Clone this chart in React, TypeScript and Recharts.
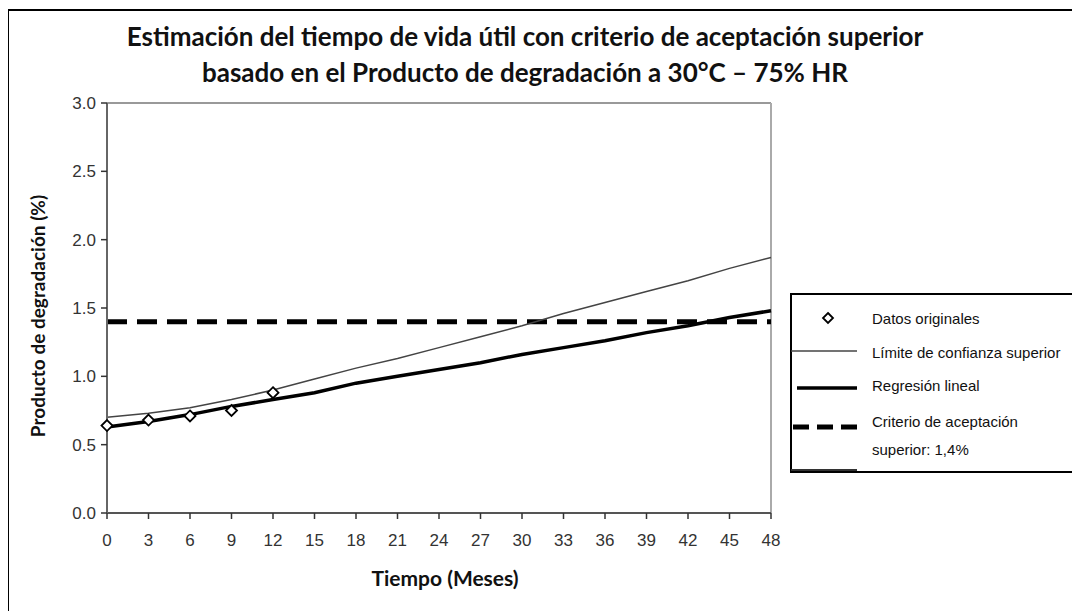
import React from "react";
import { ComposedChart, Line, XAxis, YAxis, ReferenceLine, Label } from "recharts";

const months = [0, 3, 6, 9, 12, 15, 18, 21, 24, 27, 30, 33, 36, 39, 42, 45, 48];
const upperLimit = [0.70, 0.73, 0.77, 0.83, 0.90, 0.98, 1.06, 1.13, 1.21, 1.29, 1.37, 1.46, 1.54, 1.62, 1.70, 1.79, 1.87];
const regression = [0.63, 0.67, 0.72, 0.78, 0.83, 0.88, 0.95, 1.00, 1.05, 1.10, 1.16, 1.21, 1.26, 1.32, 1.37, 1.43, 1.48];
const observed: (number | null)[] = [0.64, 0.68, 0.71, 0.75, 0.88, null, null, null, null, null, null, null, null, null, null, null, null];
const criterion = 1.4;
const yTicks = [0, 0.5, 1.0, 1.5, 2.0, 2.5, 3.0];

const data = months.map((m, i) => ({
  month: m,
  upper: upperLimit[i],
  reg: regression[i],
  obs: observed[i],
}));

const tickFont = { fontFamily: "Liberation Sans, Arial, sans-serif", fontSize: 17, fill: "#333" };
const boldFont = "Lato, Calibri, sans-serif";

const Diamond = (props: any) => {
  const { cx, cy, value, index } = props;
  if (value == null || cx == null || cy == null) return <g key={`d${index}`} />;
  const r = 5.5;
  return (
    <path
      key={`d${index}`}
      d={`M${cx},${cy - r} L${cx + r},${cy} L${cx},${cy + r} L${cx - r},${cy} Z`}
      fill="#fff"
      stroke="#000"
      strokeWidth={1.8}
    />
  );
};

const LegendBox = () => {
  const txt = { fontFamily: "Liberation Sans, Arial, sans-serif", fontSize: 15, fill: "#111" } as any;
  return (
    <svg width={287} height={181} style={{ display: "block" }}>
      <rect x={1} y={1} width={284} height={178} fill="#fff" stroke="#000" strokeWidth={2} />
      <path d="M38,20 L43,25 L38,30 L33,25 Z" fill="#fff" stroke="#000" strokeWidth={1.8} />
      <text x={82} y={31} {...txt}>Datos originales</text>
      <line x1={1} y1={58} x2={67} y2={58} stroke="#444" strokeWidth={1.3} />
      <text x={82} y={65} {...txt}>Límite de confianza superior</text>
      <line x1={7} y1={95} x2={67} y2={95} stroke="#000" strokeWidth={3.5} />
      <text x={82} y={98} {...txt}>Regresión lineal</text>
      <line x1={3} y1={134} x2={67} y2={134} stroke="#000" strokeWidth={5} strokeDasharray="16 8" />
      <text x={82} y={134} {...txt}>Criterio de aceptación</text>
      <text x={82} y={162} {...txt}>superior:  1,4%</text>
      <line x1={1} y1={177} x2={67} y2={177} stroke="#333" strokeWidth={2} />
    </svg>
  );
};

export default function App() {
  return (
    <div style={{ position: "relative", width: 1072, height: 603 }}>
      <div
        style={{
          position: "absolute",
          left: -1,
          top: 1,
          width: 1080,
          height: 610,
          borderLeft: "2px solid #000",
          borderTop: "2px solid #000",
        }}
      />
      <div
        style={{
          position: "absolute",
          left: 0,
          top: 10,
          width: 1034,
          textAlign: "center",
          fontFamily: boldFont,
          fontWeight: 700,
          fontSize: 26,
          lineHeight: "36px",
          color: "#111",
        }}
      >
        <div>Estimación del tiempo de vida útil con criterio de aceptación superior</div>
        <div>basado en el Producto de degradación a 30°C – 75% HR</div>
      </div>
      <div style={{ position: "absolute", left: 0, top: 0 }}>
        <ComposedChart
          width={1072}
          height={603}
          data={data}
          margin={{ top: 95, right: 309, bottom: 58, left: 39 }}
        >
          <XAxis
            dataKey="month"
            type="number"
            domain={[0, 48]}
            ticks={months}
            interval={0}
            height={40}
            axisLine={{ stroke: "#555", strokeWidth: 2 }}
            tickLine={{ stroke: "#333", strokeWidth: 1.5 }}
            tickSize={6}
            tick={tickFont}
            tickMargin={15}
          >
            <Label
              content={(p: any) => {
                const vb = p.viewBox;
                return (
                  <text
                    x={vb.x + vb.width / 2 + 6}
                    y={vb.y + 73}
                    textAnchor="middle"
                    fontFamily={boldFont}
                    fontWeight={700}
                    fontSize={21}
                    fill="#111"
                  >
                    Tiempo (Meses)
                  </text>
                );
              }}
            />
          </XAxis>
          <YAxis
            type="number"
            domain={[0, 3]}
            ticks={yTicks}
            interval={0}
            width={60}
            tickFormatter={(v: number) => v.toFixed(1)}
            axisLine={{ stroke: "#666", strokeWidth: 2 }}
            tickLine={{ stroke: "#333", strokeWidth: 1.5 }}
            tickSize={6}
            tick={tickFont}
            tickMargin={5}
          >
            <Label
              content={(p: any) => {
                const vb = p.viewBox;
                const cx = vb.x - 10;
                const cy = vb.y + vb.height / 2 + 8;
                return (
                  <text
                    x={cx}
                    y={cy}
                    transform={`rotate(-90 ${cx} ${cy})`}
                    textAnchor="middle"
                    dominantBaseline="central"
                    fontFamily={boldFont}
                    fontWeight={700}
                    fontSize={19}
                    fill="#111"
                  >
                    Producto de degradación (%)
                  </text>
                );
              }}
            />
          </YAxis>
          <ReferenceLine y={3} stroke="#999" strokeWidth={2} />
          <ReferenceLine x={48} stroke="#aaa" strokeWidth={2} />
          <ReferenceLine y={criterion} stroke="#000" strokeWidth={5} strokeDasharray="20 10" />
          <Line
            dataKey="upper"
            type="linear"
            stroke="#444"
            strokeWidth={1.5}
            dot={false}
            isAnimationActive={false}
          />
          <Line
            dataKey="reg"
            type="linear"
            stroke="#000"
            strokeWidth={3.5}
            dot={false}
            isAnimationActive={false}
          />
          <Line
            dataKey="obs"
            type="linear"
            stroke="none"
            dot={Diamond}
            activeDot={false}
            connectNulls={false}
            isAnimationActive={false}
          />
        </ComposedChart>
      </div>
      <div style={{ position: "absolute", left: 782, top: 285 }}>
        <LegendBox />
      </div>
    </div>
  );
}
